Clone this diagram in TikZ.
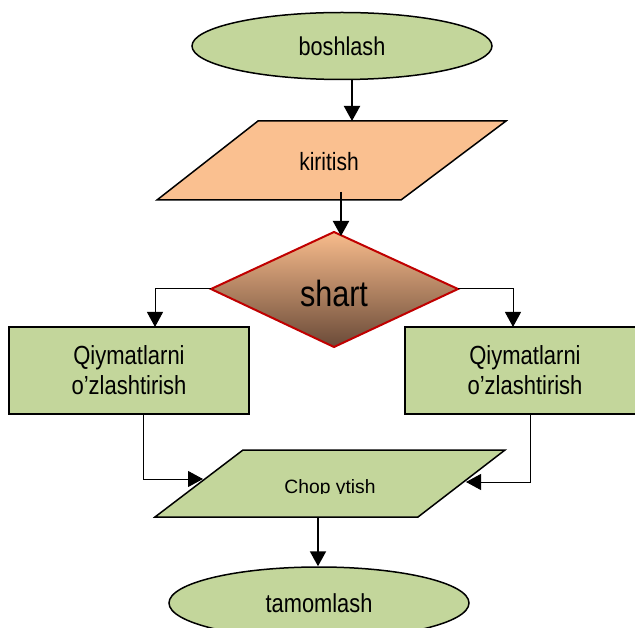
\documentclass[tikz,border=0pt]{standalone}
\usepackage{fontspec}
\setmainfont{Liberation Sans}
\newfontfamily\narrowf[FakeStretch=0.84]{Liberation Sans}
\usetikzlibrary{shapes.geometric,arrows.meta}
\definecolor{fgreen}{HTML}{C3D69B}
\definecolor{forange}{HTML}{FAC090}
\definecolor{dtop}{HTML}{F8BC8C}
\definecolor{dbot}{HTML}{6A4A38}
\definecolor{dred}{HTML}{C00000}
\tikzset{
  lbl/.style={align=center, inner sep=0pt},
  term/.style={ellipse, draw, fill=fgreen, line width=1.5pt, minimum width=300pt, minimum height=67pt, inner sep=0pt},
  border/.style={draw, line width=1.5pt},
  flow/.style={line width=2pt, -{Triangle[length=15pt,width=16pt]}},
  elbowarr/.style={line width=1pt, -{Triangle[length=15pt,width=16pt]}},
}
\begin{document}
\begin{tikzpicture}[x=1pt,y=-1pt]
\useasboundingbox (0,0) rectangle (635,628);
% terminals
\node[term, font=\narrowf\fontsize{25.8}{30}\selectfont] (start) at (342,46) {boshlash};
\node[term, minimum height=72pt, font=\narrowf\fontsize{26}{30}\selectfont] (end) at (319,603) {tamomlash};
% input parallelogram
\path[border, fill=forange] (258,121) -- (506,121) -- (401,200) -- (157,200) -- cycle;
\node[lbl, font=\narrowf\fontsize{25}{30}\selectfont] (kir) at (329,162) {kiritish};
% decision
\path[top color=dtop, bottom color=dbot, draw=dred, line width=2pt]
  (334,232) -- (458,289) -- (334,347) -- (211,289) -- cycle;
\node[lbl, font=\narrowf\fontsize{36.4}{40}\selectfont] (shart) at (334,293) {shart};
\coordinate (dl) at (211,289);
\coordinate (dr) at (458,289);
% process boxes
\path[border, fill=fgreen] (9,327) rectangle (249,414);
\node[lbl, font=\narrowf\fontsize{26.2}{30}\selectfont] (q1) at (129,370) {Qiymatlarni\\o’zlashtirish};
\path[border, fill=fgreen] (405,327) rectangle (645,414);
\node[lbl, font=\narrowf\fontsize{26.2}{30}\selectfont] (q2) at (525,370) {Qiymatlarni\\o’zlashtirish};
% output parallelogram
\path[border, fill=fgreen] (243,450) -- (505,450) -- (418,517) -- (155,517) -- cycle;
\begin{scope}
  \clip (0,0) rectangle (635,493.5);
  \node[lbl, font=\fontsize{19.3}{24}\selectfont, anchor=base] (chop) at (330,493.6) {Chop ytish};
\end{scope}
% connector coordinates
\coordinate (k1) at (352,121);
\coordinate (k2) at (341,192);
\coordinate (s1) at (341,236);
\coordinate (b1top) at (155,327);
\coordinate (b2top) at (513,327);
\coordinate (b1bot) at (143,414);
\coordinate (b2bot) at (530,414);
\coordinate (c1) at (203,479);
\coordinate (c2) at (466,482);
\coordinate (c3) at (318,517);
% connectors
\draw[flow] (start.south -| k1) -- (k1);
\draw[flow] (k2) -- (s1);
\draw[elbowarr] (dl) -| (b1top);
\draw[elbowarr] (dr) -| (b2top);
\draw[elbowarr] (b1bot) |- (c1);
\draw[elbowarr] (b2bot) |- (c2);
\draw[flow] (c3) -- (end.north -| c3);
\end{tikzpicture}
\end{document}
